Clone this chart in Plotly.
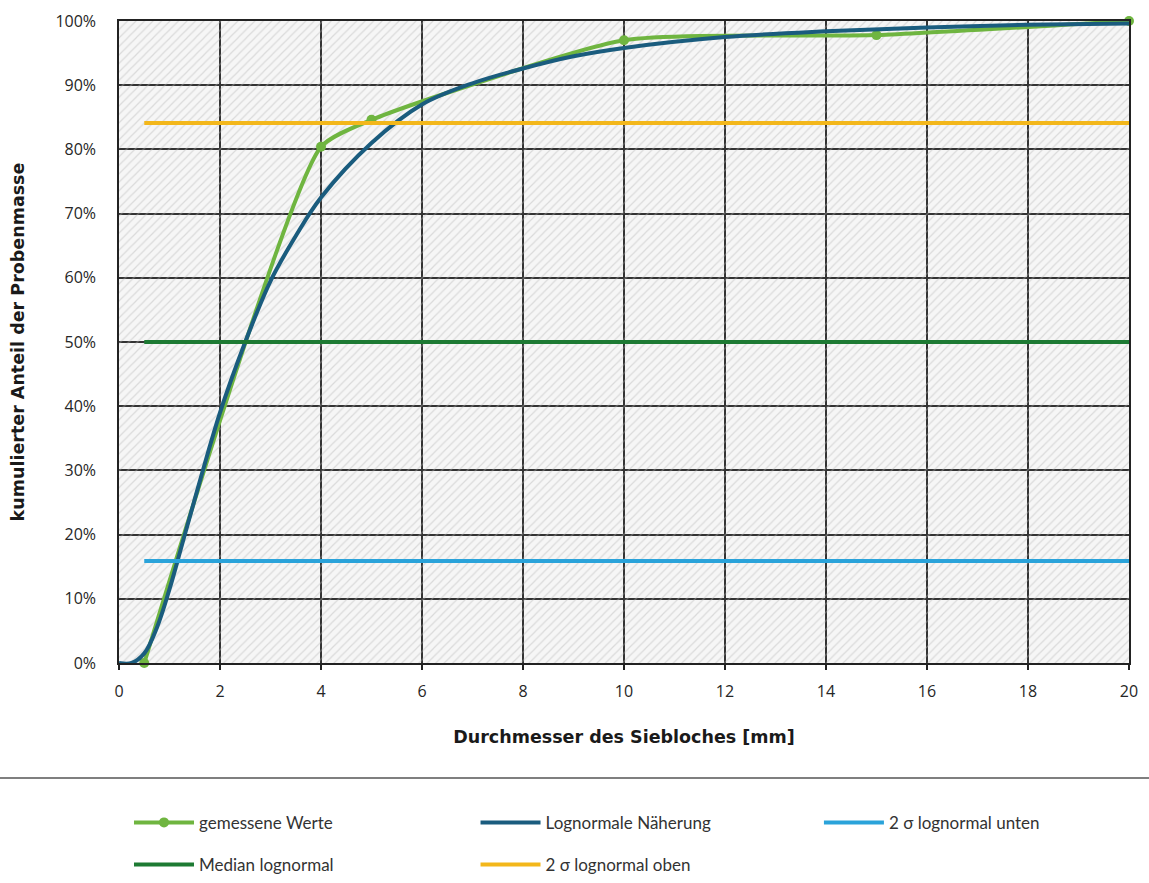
import plotly.graph_objects as go

# ---- data ----
x_measured = [0.5, 4, 5, 10, 15, 20]
y_measured = [0.0, 80.4, 84.6, 97.0, 97.8, 100.0]

x_lognormal = [0, 0.25, 0.5, 0.75, 1, 1.25, 1.5, 2, 2.5, 3, 3.5, 4, 5, 6, 7, 8, 9, 10, 12, 14, 16, 18, 20]
y_lognormal = [0.0, 0.0, 1.5, 5.5, 11.5, 18.5, 25.5, 39.0, 50.0, 59.5, 66.5, 72.5, 81.0, 87.0, 90.3, 92.6, 94.5, 95.8, 97.5, 98.4, 99.0, 99.4, 99.6]

x_ref_lines = [0.5, 20]
y_unten = [15.9, 15.9]
y_median = [50.0, 50.0]
y_oben = [84.1, 84.1]

names = ["gemessene Werte", "Lognormale Näherung", "2 σ lognormal unten",
         "Median lognormal", "2 σ lognormal oben"]
colors = ["#6FB540", "#1A5C7E", "#2AA3DA", "#1D7A33", "#F3B71B"]

x_ticks = [0, 2, 4, 6, 8, 10, 12, 14, 16, 18, 20]
y_ticks = [0, 10, 20, 30, 40, 50, 60, 70, 80, 90, 100]
X_RANGE = [0, 20]
Y_RANGE = [0, 100]

tick_font = dict(family="Open Sans, sans-serif", size=16, color="#262626")
title_font = dict(family="DejaVu Sans, sans-serif", size=17.5, color="#1a1a1a")
legend_font = dict(family="Lato, sans-serif", size=17, color="#333333")

# legend placement (paper coords): one legend per entry
legend_keys = ["legend", "legend2", "legend3", "legend4", "legend5"]
legend_x = [0.0099, 0.353, 0.693, 0.0099, 0.353]
legend_y = [-0.249, -0.249, -0.249, -0.3146, -0.3146]

fig = go.Figure()

# hatched plot-area background
fig.add_trace(go.Scatter(
    x=[X_RANGE[0], X_RANGE[1], X_RANGE[1], X_RANGE[0], X_RANGE[0]],
    y=[Y_RANGE[0], Y_RANGE[0], Y_RANGE[1], Y_RANGE[1], Y_RANGE[0]],
    mode="none", fill="toself", fillcolor="rgba(0,0,0,0)",
    fillpattern=dict(shape="/", fgcolor="#b8b8b8", fgopacity=0.45,
                     bgcolor="rgba(0,0,0,0)", size=6, solidity=0.2),
    hoverinfo="skip", showlegend=False))

fig.add_trace(go.Scatter(
    x=x_measured, y=y_measured, name=names[0], mode="lines+markers",
    line=dict(color=colors[0], width=4, shape="spline", smoothing=0.55),
    marker=dict(size=10, color=colors[0]), cliponaxis=False, legend=legend_keys[0]))
fig.add_trace(go.Scatter(
    x=x_lognormal, y=y_lognormal, name=names[1], mode="lines",
    line=dict(color=colors[1], width=4, shape="spline", smoothing=1.0),
    cliponaxis=False, legend=legend_keys[1]))
fig.add_trace(go.Scatter(
    x=x_ref_lines, y=y_unten, name=names[2], mode="lines",
    line=dict(color=colors[2], width=4), legend=legend_keys[2]))
fig.add_trace(go.Scatter(
    x=x_ref_lines, y=y_median, name=names[3], mode="lines",
    line=dict(color=colors[3], width=4), legend=legend_keys[3]))
fig.add_trace(go.Scatter(
    x=x_ref_lines, y=y_oben, name=names[4], mode="lines",
    line=dict(color=colors[4], width=4), legend=legend_keys[4]))

# separator line above the legend
fig.add_shape(type="line", xref="paper", yref="paper",
              x0=-0.118, x1=1.02, y0=-0.179, y1=-0.179,
              line=dict(color="#7f7f7f", width=2))

legends = {}
for key, lx, ly in zip(legend_keys, legend_x, legend_y):
    legends[key] = dict(orientation="h", font=legend_font, bgcolor="rgba(0,0,0,0)",
                        itemwidth=60, xanchor="left", yanchor="middle",
                        x=lx, y=ly)

fig.update_layout(
    width=1149, height=883,
    margin=dict(l=119, r=20, t=21, b=220, autoexpand=False),
    paper_bgcolor="white", plot_bgcolor="#f6f6f6",
    showlegend=True,
    **legends,
    xaxis=dict(range=X_RANGE, tickvals=x_ticks, ticktext=[str(v) for v in x_ticks],
               showgrid=True, gridcolor="#333333", gridwidth=1.5,
               showline=True, linecolor="#222222", linewidth=2, mirror=True,
               ticks="outside", ticklen=5, tickcolor="#222222", tickwidth=1.5,
               tickfont=tick_font, zeroline=False, ticklabelstandoff=8,
               title=dict(text="<b>Durchmesser des Siebloches [mm]</b>",
                          font=title_font, standoff=30)),
    yaxis=dict(range=Y_RANGE, tickvals=y_ticks, ticktext=[f"{v}%" for v in y_ticks],
               showgrid=True, gridcolor="#333333", gridwidth=1.5,
               showline=True, linecolor="#222222", linewidth=1.5, mirror=True,
               ticks="", tickfont=tick_font, zeroline=False, ticklabelstandoff=18,
               title=dict(text="<b>kumulierter Anteil der Probenmasse</b>",
                          font=title_font, standoff=26)),
)

fig.write_html("out.html", config={"displayModeBar": False},
               post_script="document.body.style.margin='0';")
